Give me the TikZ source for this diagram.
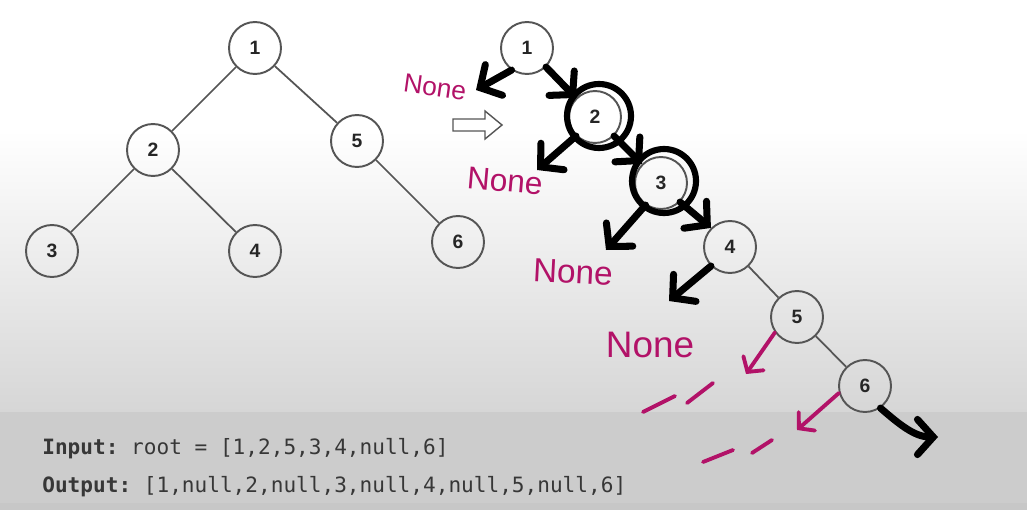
\documentclass[tikz,border=0pt]{standalone}
\usepackage{fontspec}
\setmainfont{Liberation Sans}
\setmonofont{DejaVu Sans Mono}
\usetikzlibrary{arrows.meta,positioning,calc}
\definecolor{InkM}  {RGB}{178, 18, 104}
\definecolor{EdgeG} {RGB}{85,  85,  85}
\definecolor{BgG}   {RGB}{214,214, 214}
\definecolor{BoxG}  {RGB}{204,204, 204}
\definecolor{TxtG}  {RGB}{55,  55,  55}
\tikzset{
  treenode/.style={circle,draw=EdgeG,line width=1.1pt,minimum size=1.04cm,inner sep=0pt,
    font=\bfseries\fontsize{11}{11}\selectfont,text=black!85},
  treeedge/.style={draw=EdgeG,line width=1pt},
  inkarrow/.style={line width=4pt,line cap=round,line join=round,
    -{Straight Barb[length=9pt,width=20pt,line cap=round]}},
  magarrow/.style={InkM,line width=2.2pt,line cap=round,
    -{Straight Barb[length=6pt,width=14pt,line cap=round]}},
  nonelbl/.style={InkM,inner sep=0pt},
  codetxt/.style={anchor=west,text=TxtG,inner sep=0pt,font=\ttfamily\fontsize{12}{12}\selectfont}
}
\begin{document}
\begin{tikzpicture}[x=0.02cm,y=-0.02cm]
        \useasboundingbox (0,0) rectangle (1027,510);
        % background
        \fill[white] (0,0) rectangle (1027,130);
        \shade[top color=white,bottom color=BgG] (0,130) rectangle (1027,412);
        \fill[BoxG] (0,412) rectangle (1027,510);
        \fill[black!22] (0,503) rectangle (1027,510);
        % left tree
        \node[treenode] (l1) at (255,48) {1};
        \node[treenode] (l2) at (153,150) {2};
        \node[treenode] (l5) at (357,141) {5};
        \node[treenode] (l3) at (52,251) {3};
        \node[treenode] (l4) at (255,251) {4};
        \node[treenode] (l6) at (458,242) {6};
        \draw[treeedge] (l1)--(l2) (l1)--(l5) (l2)--(l3) (l2)--(l4) (l5)--(l6);
        % hollow arrow
        \draw[EdgeG,line width=0.8pt,fill=white] (453,119)--(485,119)--(485,111)--(502,125)
          --(485,139)--(485,131)--(453,131)--cycle;
        % flattened chain
        \node[treenode] (r1) at (527,48) {1};
        \node[treenode] (r2) at (595,117) {2};
        \node[treenode] (r3) at (661,183) {3};
        \node[treenode] (r4) at (730,247) {4};
        \node[treenode] (r5) at (797,317) {5};
        \node[treenode] (r6) at (865,386) {6};
        \draw[treeedge] (r4)--(r5) (r5)--(r6);
        % hand marks
        \draw[line width=3.5pt] (599,116) circle[radius=0.64cm];
        \draw[line width=3.5pt] (664,181) circle[radius=0.64cm];
        \coordinate (n1) at (476,90);
        \coordinate (n2) at (537,170);
        \coordinate (n3) at (606,250);
        \coordinate (n4) at (669,301);
        \coordinate (e6) at (938,437);
        \draw[inkarrow] (r1.235)--(n1);
        \draw[inkarrow] (r1.-45)--(r2.north west);
        \draw[inkarrow] (r2.225)--(n2);
        \draw[inkarrow] (r2.-45)--(r3.north west);
        \draw[inkarrow] (r3.235)--(n3);
        \draw[inkarrow] (r3.-45)--(r4.north west);
        \draw[inkarrow] (r4.225)--(n4);
        \draw[inkarrow] (r6.-55) .. controls (900,425) and (915,437) .. (e6);
        % None labels
        \node[nonelbl,font=\fontsize{15}{15}\selectfont,rotate=-8] (none1) at (435,87) {None};
        \node[nonelbl,font=\fontsize{18}{18}\selectfont,rotate=-5] (none2) at (505,181) {None};
        \node[nonelbl,font=\fontsize{19}{19}\selectfont,rotate=-3] (none3) at (573,272) {None};
        \node[nonelbl,font=\fontsize{21}{21}\selectfont] (none4) at (650,345) {None};
        % pink arrows and dashes
        \coordinate (p5) at (746,374);
        \coordinate (p6) at (797,430);
        \draw[magarrow] (r5.215)--(p5);
        \draw[magarrow] (r6.195)--(p6);
        \draw[InkM,line width=2.2pt,line cap=round] (643,412)--(675,396) (687,403)--(713,383);
        \draw[InkM,line width=2.2pt,line cap=round] (703,462)--(733,450) (752,453)--(772,440);
        % input / output
        \node[codetxt] (inputtxt) at (42,449)
          {\textbf{Input:} root = [1,2,5,3,4,null,6]};
        \node[codetxt] (outputtxt) at (42,487)
          {\textbf{Output:} [1,null,2,null,3,null,4,null,5,null,6]};
      \end{tikzpicture}
\end{document}
